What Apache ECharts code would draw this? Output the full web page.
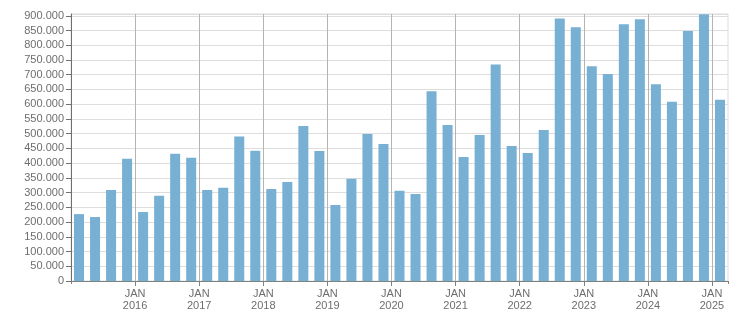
<!DOCTYPE html>
<html>
<head>
<meta charset="utf-8">
<script src="https://cdn.jsdelivr.net/npm/echarts@6/dist/echarts.min.js"></script>
<style>
html,body{margin:0;padding:0;background:#fff;}
#chart{width:751px;height:313px;}
</style>
</head>
<body>
<div id="chart"></div>
<script>
// Quarterly categories: 2015 Q1 .. 2025 Q1
const quarters = [
  "2015 Q1","2015 Q2","2015 Q3","2015 Q4",
  "2016 Q1","2016 Q2","2016 Q3","2016 Q4",
  "2017 Q1","2017 Q2","2017 Q3","2017 Q4",
  "2018 Q1","2018 Q2","2018 Q3","2018 Q4",
  "2019 Q1","2019 Q2","2019 Q3","2019 Q4",
  "2020 Q1","2020 Q2","2020 Q3","2020 Q4",
  "2021 Q1","2021 Q2","2021 Q3","2021 Q4",
  "2022 Q1","2022 Q2","2022 Q3","2022 Q4",
  "2023 Q1","2023 Q2","2023 Q3","2023 Q4",
  "2024 Q1","2024 Q2","2024 Q3","2024 Q4",
  "2025 Q1"
];
const values = [
  227000, 217000, 309000, 415000,
  234000, 289000, 432000, 418000,
  309000, 316000, 490000, 442000,
  312000, 336000, 526000, 441000,
  258000, 347000, 499000, 465000,
  306000, 295000, 644000, 529000,
  421000, 495000, 735000, 458000,
  434000, 512000, 891000, 861000,
  729000, 702000, 871000, 888000,
  668000, 608000, 848000, 905000,
  615000
];
// Year-boundary tick labels (placed at the start of each year's Q1 bar)
const yearTickLabels = ["JAN\n2016","JAN\n2017","JAN\n2018","JAN\n2019","JAN\n2020",
  "JAN\n2021","JAN\n2022","JAN\n2023","JAN\n2024","JAN\n2025"];

// boundaries between bars (0 .. quarters.length)
const boundaries = [];
for (let i = 0; i <= quarters.length; i++) {
  const yr = (i % 4 === 0 && i > 0) ? yearTickLabels[i / 4 - 1] : "";
  boundaries.push(yr || ("b" + i));
}
const isYear = (i) => i % 4 === 0 && i > 0 && i < boundaries.length;

function fmt(v) {
  return String(v).replace(/\B(?=(\d{3})+(?!\d))/g, ".");
}

const FONT = "Liberation Sans";
const chart = echarts.init(document.getElementById("chart"), null, {renderer: "canvas"});
chart.setOption({
  animation: false,
  textStyle: {fontFamily: FONT},
  grid: {left: 71, right: 23, top: 14, bottom: 32, show: true, borderColor: "#dddddd", borderWidth: 1},
  xAxis: [
    {
      type: "category",
      data: quarters,
      boundaryGap: true,
      axisLine: {show: true, lineStyle: {color: "#808080", width: 1}},
      axisTick: {show: true, length: 3, lineStyle: {color: "#808080"}},
      axisLabel: {show: false},
      splitLine: {show: false}
    },
    {
      type: "category",
      data: boundaries,
      boundaryGap: false,
      position: "bottom",
      axisLine: {show: false},
      axisTick: {show: true, length: 5, interval: (i) => isYear(i), lineStyle: {color: "#808080"}},
      axisLabel: {
        show: true,
        interval: (i) => isYear(i),
        formatter: (v) => (v.indexOf("JAN") === 0 ? v : ""),
        color: "#6e6e6e",
        fontFamily: FONT,
        fontSize: 11,
        lineHeight: 12,
        margin: 7
      },
      splitLine: {show: true, interval: (i) => isYear(i), lineStyle: {color: "#b4b4b4", width: 1}}
    }
  ],
  yAxis: {
    type: "value",
    min: 0,
    max: 906000,
    interval: 50000,
    axisLine: {show: true, lineStyle: {color: "#707070"}},
    axisTick: {show: true, length: 5, lineStyle: {color: "#707070"}},
    axisLabel: {
      color: "#6e6e6e",
      fontFamily: FONT,
      fontSize: 11,
      margin: 7,
      showMaxLabel: false,
      formatter: (v) => (v % 50000 === 0 ? fmt(v) : "")
    },
    splitLine: {show: true, lineStyle: {color: "#dddddd", width: 1}}
  },
  series: [{
    type: "bar",
    xAxisIndex: 0,
    data: values,
    barWidth: 10,
    itemStyle: {color: "#77b0d3"}
  }]
});
</script>
</body>
</html>
